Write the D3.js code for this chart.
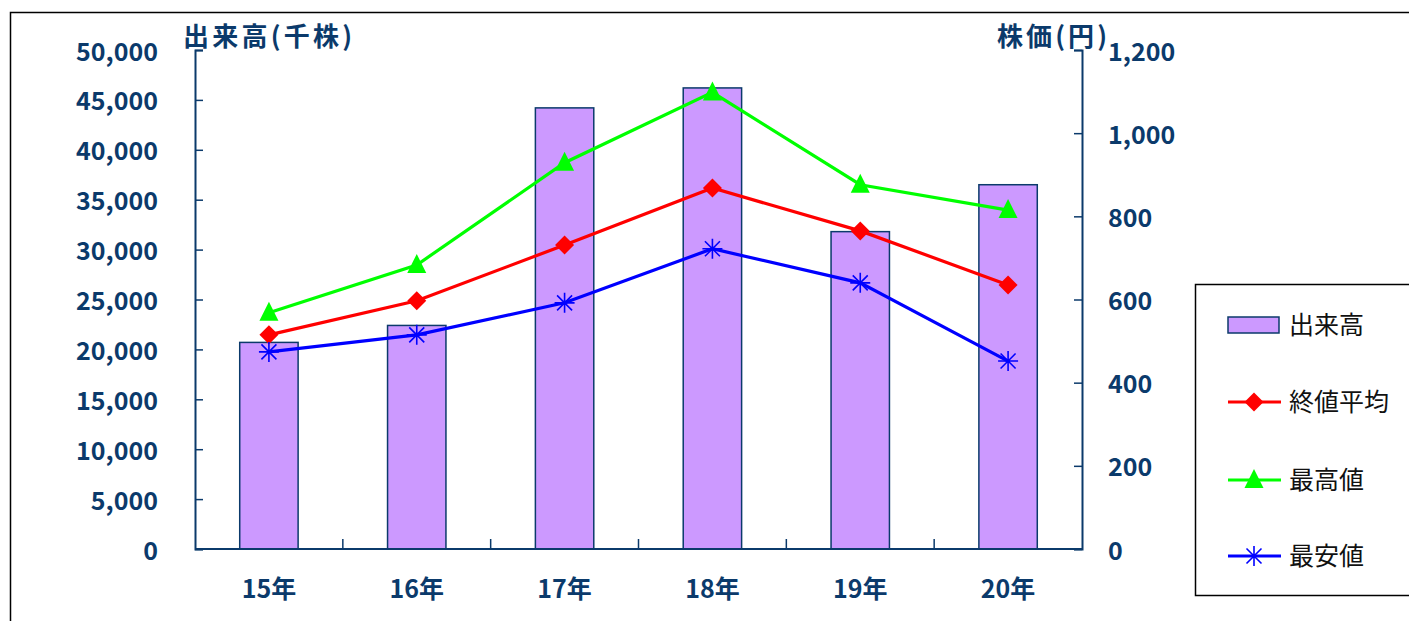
<!DOCTYPE html>
<html><head><meta charset="utf-8">
<script src="https://cdn.jsdelivr.net/npm/d3@7"></script>
<style>
body{margin:0;background:#fff;}
svg{display:block;}
</style></head>
<body><svg id="c" width="1409" height="621"></svg>
<script>
const categories = ["15年","16年","17年","18年","19年","20年"];
const volume = [20700, 22400, 44200, 46200, 31800, 36500];
const closeAvg = [515, 597, 731, 868, 765, 635];
const highVal = [568, 683, 929, 1098, 876, 815];
const lowVal = [474, 515, 592, 722, 640, 452];
const leftTicks = [0,5000,10000,15000,20000,25000,30000,35000,40000,45000,50000];
const rightTicks = [0,200,400,600,800,1000,1200];
const legendLabels = ["出来高","終値平均","最高値","最安値"];

const navy = "#0B3A6B";
const font = "'Noto Sans CJK JP','Liberation Sans',sans-serif";
const svg = d3.select("#c");
const L = 195, R = 1082, T = 50, B = 549;

// frame
svg.append("rect").attr("x",10.5).attr("y",12.5).attr("width",1500).attr("height",700)
  .attr("fill","none").attr("stroke","#000").attr("stroke-width",1.5);

const x = d3.scaleBand().domain(categories).range([L,R]).padding(0);
const yL = d3.scaleLinear().domain([0,50000]).range([B,T]);
const yR = d3.scaleLinear().domain([0,1200]).range([B,T]);
const fmt = d3.format(",");

// bars
const bw = x.bandwidth()*0.395;
svg.append("g").selectAll("rect").data(volume).join("rect")
  .attr("x",(d,i)=>x(categories[i])+x.bandwidth()/2-bw/2)
  .attr("y",d=>yL(d)).attr("width",bw).attr("height",d=>B-yL(d))
  .attr("fill","#CC99FF").attr("stroke",navy).attr("stroke-width",1.5);

// left axis
const gl = svg.append("g").attr("transform",`translate(${L},0)`)
  .call(d3.axisLeft(yL).tickValues(leftTicks).tickFormat(fmt).tickSize(-8).tickPadding(37));
// right axis
const gr = svg.append("g").attr("transform",`translate(${R},0)`)
  .call(d3.axisRight(yR).tickValues(rightTicks).tickFormat(fmt).tickSize(-8).tickPadding(26));
// bottom axis
const gb = svg.append("g").attr("transform",`translate(0,${B})`)
  .call(d3.axisBottom(x).tickSize(0).tickPadding(31));
[gl,gr,gb].forEach(g=>{
  g.select(".domain").attr("stroke",navy).attr("stroke-width",2);
  g.selectAll(".tick line").attr("stroke",navy).attr("stroke-width",1.5);
  g.selectAll("text").attr("fill",navy).attr("font-family",font).attr("font-weight","bold").attr("font-size",25);
});
gl.selectAll("text").attr("dy","0.4em");
gr.selectAll("text").attr("dy","0.4em");
gb.select(".domain").attr("d",`M${L},0H${R}`);
// category boundary ticks
gb.append("g").selectAll("line").data(categories.slice(1)).join("line")
  .attr("x1",d=>x(d)).attr("x2",d=>x(d)).attr("y1",0).attr("y2",-10)
  .attr("stroke",navy).attr("stroke-width",1.5);

// axis titles
svg.append("text").attr("x",183).attr("y",46).text("出来高(千株)")
  .attr("textLength",169).attr("lengthAdjust","spacing")
  .attr("fill",navy).attr("font-family",font).attr("font-weight","bold").attr("font-size",26);
svg.append("text").attr("x",997).attr("y",46).text("株価(円)")
  .attr("textLength",110).attr("lengthAdjust","spacing")
  .attr("fill",navy).attr("font-family",font).attr("font-weight","bold").attr("font-size",26);

const cx = i=>x(categories[i])+x.bandwidth()/2;
const line = d3.line().x((d,i)=>cx(i)).y(d=>yR(d));
const series = [
  {data:closeAvg,color:"#FF0000",marker:"diamond"},
  {data:highVal,color:"#00FF00",marker:"triangle"},
  {data:lowVal,color:"#0000FF",marker:"star"}
];
function drawMarker(g,type,color,px,py){
  if(type==="diamond"){
    const s=9.5;
    g.append("path").attr("d",`M${px},${py-s}L${px+s},${py}L${px},${py+s}L${px-s},${py}Z`).attr("fill",color);
  } else if(type==="triangle"){
    g.append("path").attr("d",`M${px},${py-11}L${px+9.5},${py+8}L${px-9.5},${py+8}Z`).attr("fill",color);
  } else {
    const s=10;
    g.append("path").attr("d",`M${px-s},${py}H${px+s}M${px-s*0.75},${py-s*0.75}L${px+s*0.75},${py+s*0.75}M${px-s*0.75},${py+s*0.75}L${px+s*0.75},${py-s*0.75}M${px},${py-s}V${py+s}`)
      .attr("stroke",color).attr("stroke-width",1.6).attr("fill","none");
  }
}
series.forEach(s=>{
  svg.append("path").datum(s.data).attr("d",line).attr("fill","none")
    .attr("stroke",s.color).attr("stroke-width",3.2);
  const g = svg.append("g");
  s.data.forEach((d,i)=>drawMarker(g,s.marker,s.color,cx(i),yR(d)));
});

// legend
svg.append("rect").attr("x",1195.5).attr("y",284.5).attr("width",300).attr("height",311)
  .attr("fill","#fff").attr("stroke","#000").attr("stroke-width",1.5);
const ly = [325,402,480,556];
const lg = svg.append("g");
lg.append("rect").attr("x",1228).attr("y",317).attr("width",51).attr("height",16)
  .attr("fill","#CC99FF").attr("stroke",navy).attr("stroke-width",1.5);
series.forEach((s,k)=>{
  const yy = ly[k+1];
  lg.append("line").attr("x1",1228).attr("x2",1281).attr("y1",yy).attr("y2",yy)
    .attr("stroke",s.color).attr("stroke-width",3.2);
  drawMarker(lg,s.marker,s.color,1254,yy);
});
legendLabels.forEach((t,k)=>{
  lg.append("text").attr("x",1289).attr("y",ly[k]).attr("dy","0.36em").text(t)
    .attr("fill","#111").attr("font-family",font).attr("font-size",25);
});
</script></body></html>
